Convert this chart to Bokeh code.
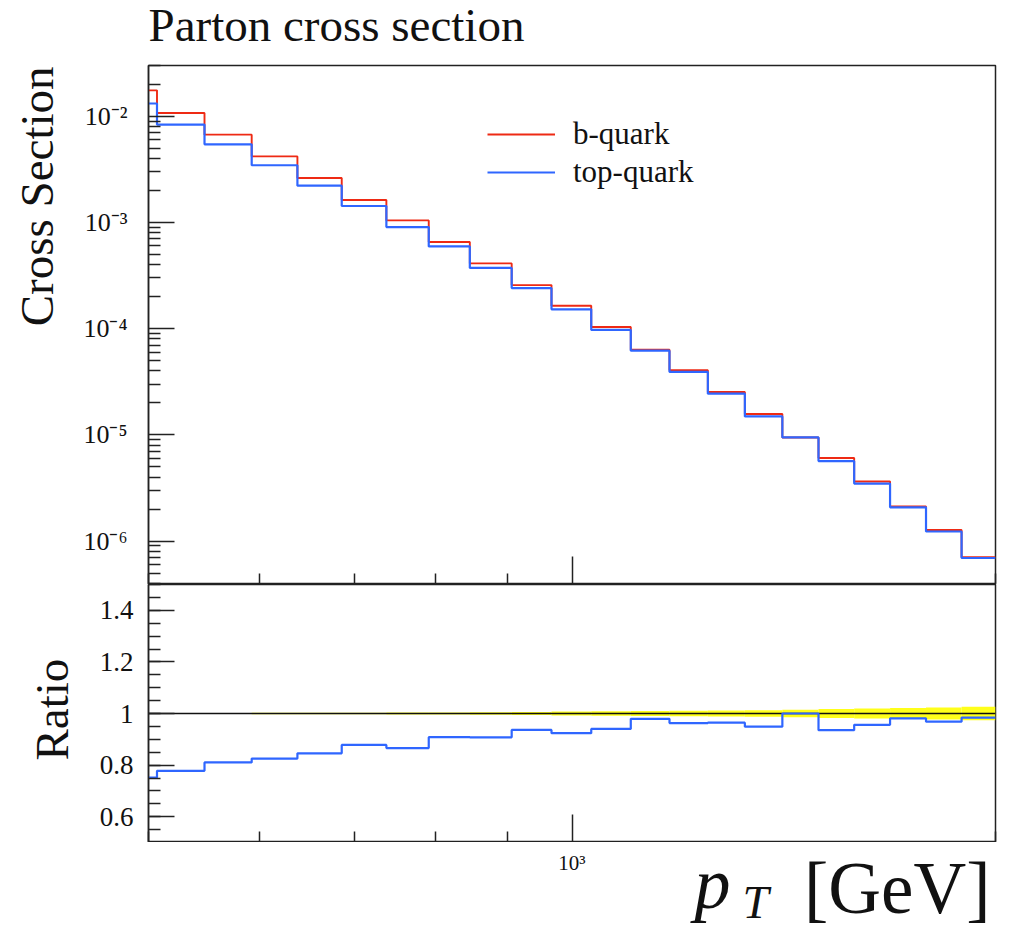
import numpy as np
from bokeh.plotting import figure
from bokeh.layouts import column, row
from bokeh.models import (Range1d, FixedTicker, CustomJSTickFormatter, Label,
                          Legend, LegendItem)
from bokeh.embed import file_html
from bokeh.resources import INLINE

# ---------------- data ----------------
bin_edges = [500, 507, 548, 592, 638, 686, 738, 791, 846, 906, 967, 1032,
             1101, 1173, 1249, 1327, 1411, 1497, 1587, 1683, 1785, 1892, 2000]
b_quark = [1.75e-2, 1.072e-2, 6.70e-3, 4.18e-3, 2.62e-3, 1.625e-3, 1.044e-3,
           6.54e-4, 4.11e-4, 2.57e-4, 1.643e-4, 1.035e-4, 6.33e-5, 4.06e-5,
           2.53e-5, 1.57e-5, 9.45e-6, 6.05e-6, 3.64e-6, 2.12e-6, 1.27e-6, 7.04e-7]
top_quark = [1.316e-2, 8.34e-3, 5.43e-3, 3.45e-3, 2.216e-3, 1.427e-3, 9.04e-4,
             5.94e-4, 3.73e-4, 2.406e-4, 1.518e-4, 9.73e-5, 6.20e-5, 3.91e-5,
             2.44e-5, 1.49e-5, 9.45e-6, 5.66e-6, 3.48e-6, 2.08e-6, 1.23e-6, 6.93e-7]
b_rel_err = [0.002, 0.002, 0.002, 0.003, 0.003, 0.003, 0.004, 0.004, 0.005,
             0.006, 0.008, 0.009, 0.010, 0.011, 0.012, 0.013, 0.015, 0.017,
             0.019, 0.021, 0.023, 0.026]

x_major = [1000]
x_minor = [500, 600, 700, 800, 900, 2000]
y_major = [1e-6, 1e-5, 1e-4, 1e-3, 1e-2]
ratio_major = [0.6, 0.8, 1.0, 1.2, 1.4]

series_labels = ["b-quark", "top-quark"]

# ---------------- styling ----------------
RED = "#ee2a14"
BLUE = "#2f66ff"
AX = "#222222"
TXT = "#111111"
FONT = "Liberation Serif"

W = 1018
FL, FR = 148, 23
TITLE_H = 55
TOP_H, RAT_H = 519, 258
TOP_B, BOT_B = 65, 87
S1_W, S2_W = 70, 80

log_fmt = CustomJSTickFormatter(code="""
const sup = {"-":"⁻","0":"⁰","1":"¹","2":"²","3":"³","4":"⁴","5":"⁵","6":"⁶","7":"⁷","8":"⁸","9":"⁹"};
const e = Math.round(Math.log10(tick));
return "10" + String(e).split("").map(c => sup[c]).join("");
""")
ratio_fmt = CustomJSTickFormatter(code="""
return (Math.abs(tick - 1) < 1e-9) ? "1" : tick.toFixed(1);
""")
empty_fmt = CustomJSTickFormatter(code="return '';")

x_range = Range1d(500, 2000)


def style_common(p):
    p.grid.visible = False
    p.outline_line_color = AX
    p.outline_line_width = 1.5
    p.background_fill_color = "white"
    p.border_fill_color = "white"
    for ax in p.axis:
        ax.axis_line_color = AX
        ax.axis_line_width = 1.5
        ax.major_tick_line_color = AX
        ax.minor_tick_line_color = AX
        ax.major_tick_line_width = 1.5
        ax.minor_tick_line_width = 1.5
        ax.major_tick_out = 0
        ax.minor_tick_out = 0
        ax.major_label_text_font = FONT
        ax.major_label_text_color = TXT


def hide_x_labels(p):
    p.xaxis.ticker = FixedTicker(ticks=x_major, minor_ticks=x_minor)
    p.xaxis.formatter = empty_fmt
    p.xaxis.major_tick_in = 28
    p.xaxis.minor_tick_in = 11
    p.xaxis.major_label_standoff = 0
    p.xaxis.major_label_text_font_size = "0px"


def text_strip(width, height, min_left=0, min_right=0, xr=None, log=False):
    kw = dict(width=width, height=height,
              y_range=Range1d(0, 1), x_axis_location=None,
              y_axis_location=None, output_backend="svg",
              toolbar_location=None, min_border_left=min_left,
              min_border_right=min_right, min_border_top=0,
              min_border_bottom=0)
    kw["x_range"] = xr if xr is not None else Range1d(0, 1)
    if log:
        kw["x_axis_type"] = "log"
    s = figure(**kw)
    s.grid.visible = False
    s.outline_line_color = None
    s.background_fill_color = "white"
    s.border_fill_color = "white"
    return s


def label(fig, x, y, text, size, align="left", angle=0.0, italic=False,
          x_units="screen", baseline="alphabetic"):
    fig.add_layout(Label(x=x, y=y, x_units=x_units, y_units="screen",
                         text=text, text_font=FONT, text_font_size=size,
                         text_font_style="italic" if italic else "normal",
                         text_baseline=baseline, text_align=align,
                         angle=angle, text_color=TXT))


# ---------------- title strip (frame aligned with the panels) ----------------
t_strip = text_strip(W, TITLE_H, min_left=FL, min_right=FR)
label(t_strip, 0, 31, "Parton cross section", "47px")

# ---------------- top panel ----------------
p1 = figure(width=W - S1_W, height=TOP_B - TITLE_H + TOP_H,
            x_axis_type="log", y_axis_type="log",
            x_range=x_range, y_range=Range1d(3.9e-7, 3.0e-2),
            output_backend="svg", toolbar_location=None,
            min_border_left=FL - S1_W, min_border_right=FR,
            min_border_top=TOP_B - TITLE_H, min_border_bottom=0)
style_common(p1)

y_minor = [m * 10.0 ** k for k in range(-7, -1) for m in range(2, 10)]
p1.yaxis.ticker = FixedTicker(ticks=y_major, minor_ticks=y_minor)
p1.yaxis.formatter = log_fmt
p1.yaxis.major_tick_in = 26
p1.yaxis.minor_tick_in = 12
p1.yaxis.major_label_standoff = 21
p1.yaxis.major_label_text_font_size = "26px"
hide_x_labels(p1)

r_b = p1.step(x=bin_edges, y=b_quark + [b_quark[-1]], mode="after",
              line_color=RED, line_width=1.9)
r_t = p1.step(x=bin_edges, y=top_quark + [top_quark[-1]], mode="after",
              line_color=BLUE, line_width=2.2)

legend = Legend(items=[LegendItem(label=series_labels[0], renderers=[r_b]),
                       LegendItem(label=series_labels[1], renderers=[r_t])],
                location=(339, 393), border_line_color=None,
                background_fill_alpha=0, glyph_width=68, glyph_height=38,
                label_height=38, spacing=0, padding=0, margin=0,
                label_standoff=18, label_text_font=FONT,
                label_text_font_size="31px", label_text_color=TXT)
p1.add_layout(legend)

s1 = text_strip(S1_W, TOP_B - TITLE_H + TOP_H)
label(s1, 36, TOP_H - 1, "Cross Section", "47px", align="right",
      angle=np.pi / 2)

# ---------------- ratio panel ----------------
p2 = figure(width=W - S2_W, height=RAT_H,
            x_axis_type="log", x_range=x_range, y_range=Range1d(0.5, 1.5),
            output_backend="svg", toolbar_location=None,
            min_border_left=FL - S2_W, min_border_right=FR,
            min_border_top=0, min_border_bottom=0)
style_common(p2)

ratio_minor = [round(0.5 + 0.05 * i, 2) for i in range(21)]
p2.yaxis.ticker = FixedTicker(ticks=ratio_major, minor_ticks=ratio_minor)
p2.yaxis.formatter = ratio_fmt
p2.yaxis.major_tick_in = 26
p2.yaxis.minor_tick_in = 12
p2.yaxis.major_label_standoff = 15
p2.yaxis.major_label_text_font_size = "27px"
hide_x_labels(p2)

ones = [bv / bv for bv in b_quark]
ratio = [t / bv for t, bv in zip(top_quark, b_quark)]
p2.quad(left=bin_edges[:-1], right=bin_edges[1:],
        bottom=[1 - e for e in b_rel_err], top=[1 + e for e in b_rel_err],
        fill_color="#ffff1a", line_color=None)
p2.step(x=bin_edges, y=ones + [ones[-1]], mode="after",
        line_color=TXT, line_width=1.6)
p2.step(x=bin_edges, y=ratio + [ratio[-1]], mode="after",
        line_color=BLUE, line_width=2.2)

s2 = text_strip(S2_W, RAT_H)
label(s2, 51, 82, "Ratio", "47px", align="left", angle=np.pi / 2)

# ---------------- x tick label and axis title strip ----------------
p3 = text_strip(W, BOT_B, min_left=FL, min_right=FR, xr=x_range, log=True)
label(p3, x_major[0], 67, "10³", "21px", align="center",
      x_units="data", baseline="middle")
label(p3, 546, 46, "p", "72px", italic=True)
label(p3, 594, 28, "T", "47px", italic=True)
label(p3, 842, 41, "[GeV]", "73px", align="right")

layout = column(t_strip, row(s1, p1, spacing=0), row(s2, p2, spacing=0), p3,
                spacing=0)
open("out.html", "w").write(file_html(layout, INLINE))
